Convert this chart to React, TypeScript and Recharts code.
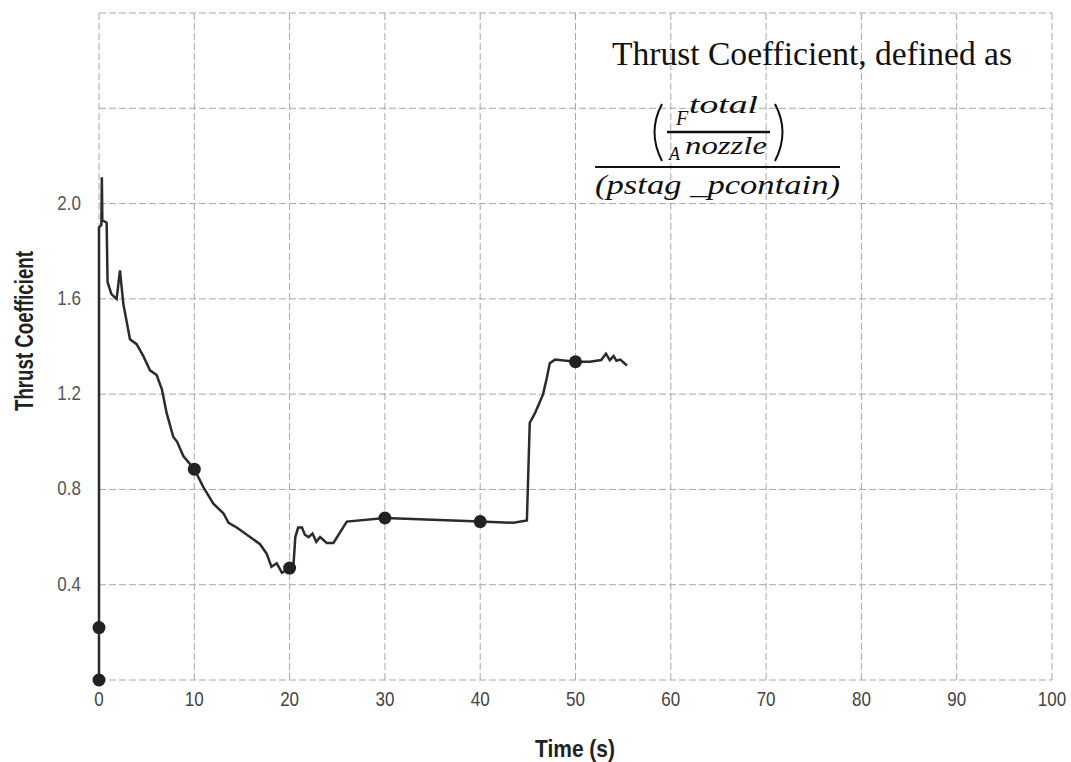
import { ComposedChart, Line, Scatter, XAxis, YAxis, CartesianGrid } from 'recharts';

// Thrust coefficient trace
const curveTime = [
  0, 0, 0.25, 0.3, 0.35, 0.8, 0.9, 1.3, 1.85, 2.2, 2.55, 3.25, 3.95, 4.65, 5.35, 6.05, 6.6, 7.1, 7.8, 8.2, 8.85,
  10.0, 10.95, 12.0, 13.05, 13.6, 14.45, 15.85, 16.9, 17.6, 18.1, 18.65, 19.2, 20.0, 20.4, 20.6, 20.9, 21.3,
  21.6, 22.0, 22.4, 22.8, 23.2, 23.9, 24.6, 26.0, 30.0, 40.0, 43.5, 44.9, 45.2, 45.75, 46.6, 47.0, 47.3,
  47.85, 50.0, 51.5, 52.7, 53.2, 53.6, 54.0, 54.3, 54.7, 55.4,
];
const curveValue = [
  0, 1.9, 1.91, 2.11, 1.93, 1.92, 1.67, 1.62, 1.6, 1.72, 1.58, 1.43, 1.41, 1.36, 1.3, 1.28, 1.22, 1.12, 1.02, 1.0, 0.94,
  0.885, 0.81, 0.74, 0.7, 0.66, 0.64, 0.6, 0.57, 0.53, 0.475, 0.49, 0.45, 0.47, 0.48, 0.6, 0.64, 0.64,
  0.61, 0.6, 0.615, 0.58, 0.6, 0.575, 0.575, 0.665, 0.68, 0.665, 0.66, 0.67, 1.08, 1.12, 1.2, 1.27, 1.33,
  1.345, 1.336, 1.336, 1.343, 1.37, 1.343, 1.36, 1.34, 1.345, 1.32,
];

const markerTime = [0, 0, 10, 20, 30, 40, 50];
const markerValue = [0, 0.22, 0.885, 0.47, 0.68, 0.665, 1.336];

const xTicks = [0, 10, 20, 30, 40, 50, 60, 70, 80, 90, 100];
const yTicks = [0, 0.4, 0.8, 1.2, 1.6, 2.0, 2.4, 2.8];
const yLabelled = [0.4, 0.8, 1.2, 1.6, 2.0];

const curve = curveTime.map((t, i) => ({ t, v: curveValue[i] }));
const markers = markerTime.map((t, i) => ({ t, v: markerValue[i] }));

const SANS = '"Liberation Sans", Arial, sans-serif';
const SERIF = '"Liberation Serif", "DejaVu Serif", serif';

// the scan uses a condensed grotesque, so squeeze the glyphs horizontally
function XTick({ x, y, payload }: any) {
  return (
    <g transform={`translate(${x},${y})`}>
      <text transform="scale(0.85,1)" textAnchor="middle" dy="0.71em" fontSize={20} fill="#444" fontFamily={SANS}>
        {payload.value}
      </text>
    </g>
  );
}

function YTick({ x, y, payload }: any) {
  const v = payload.value as number;
  if (!yLabelled.some(l => Math.abs(l - v) < 1e-6)) return null;
  return (
    <g transform={`translate(${x},${y})`}>
      <text transform="scale(0.85,1)" textAnchor="end" dy="0.3em" fontSize={20} fill="#555" fontFamily={SANS}>
        {v.toFixed(1)}
      </text>
    </g>
  );
}

function Dot({ cx, cy }: any) {
  return <circle cx={cx} cy={cy} r={6.5} fill="#222" />;
}

export default function App() {
  return (
    <div style={{ position: 'absolute', left: 0, top: 0, width: 1071, height: 762, background: '#fff' }}>
      <ComposedChart width={1071} height={762} margin={{ top: 13, right: 19, bottom: 52, left: 39 }}>
        <CartesianGrid stroke="#a8a8a8" strokeDasharray="7 3" strokeWidth={1} />
        <XAxis
          dataKey="t"
          type="number"
          domain={[0, 100]}
          ticks={xTicks}
          height={30}
          axisLine={false}
          tickLine={false}
          tickMargin={6}
          tick={<XTick />}
        />
        <YAxis
          dataKey="v"
          type="number"
          domain={[0, 2.8]}
          ticks={yTicks}
          width={60}
          axisLine={false}
          tickLine={false}
          tickMargin={12}
          tick={<YTick />}
        />
        <Line
          data={curve}
          dataKey="v"
          type="linear"
          stroke="#2b2b2b"
          strokeWidth={2.5}
          dot={false}
          activeDot={false}
          isAnimationActive={false}
        />
        <Scatter data={markers} dataKey="v" shape={<Dot />} isAnimationActive={false} />
      </ComposedChart>

      {/* axis titles and the formula note, drawn on top */}
      <svg width={1071} height={762} style={{ position: 'absolute', left: 0, top: 0, pointerEvents: 'none' }}>
        <text x={24} y={331} transform="rotate(-90 24 331)" textAnchor="middle" dominantBaseline="central"
          fontFamily={SANS} fontWeight="bold" fontSize={25} fill="#222" textLength={160} lengthAdjust="spacingAndGlyphs">
          Thrust Coefficient
        </text>
        <text x={575} y={757} textAnchor="middle" fontFamily={SANS} fontWeight="bold" fontSize={24} fill="#222"
          textLength={80} lengthAdjust="spacingAndGlyphs">
          Time (s)
        </text>

        <text x={612} y={65} fontFamily={SERIF} fontSize={33} fill="#111" textLength={400} lengthAdjust="spacingAndGlyphs">
          Thrust Coefficient, defined as
        </text>

        {/* inner fraction F^total / A^nozzle in parentheses */}
        <path d="M 662 104 Q 647 132 662 161" fill="none" stroke="#111" strokeWidth={2} />
        <path d="M 775 104 Q 790 132 775 161" fill="none" stroke="#111" strokeWidth={2} />
        <text x={676} y={125} fontFamily={SERIF} fontStyle="italic" fontSize={20} fill="#111">F</text>
        <text x={689} y={113} fontFamily={SERIF} fontStyle="italic" fontSize={25} fill="#111"
          textLength={69} lengthAdjust="spacingAndGlyphs">total</text>
        <line x1={667} x2={770} y1={132} y2={132} stroke="#111" strokeWidth={2.5} />
        <text x={669} y={160} fontFamily={SERIF} fontStyle="italic" fontSize={18} fill="#111">A</text>
        <text x={685} y={154} fontFamily={SERIF} fontStyle="italic" fontSize={25} fill="#111"
          textLength={82} lengthAdjust="spacingAndGlyphs">nozzle</text>

        <line x1={595} x2={840} y1={167} y2={167} stroke="#111" strokeWidth={2} />
        <text x={595} y={194} fontFamily={SERIF} fontStyle="italic" fontSize={28} fill="#111"
          textLength={245} lengthAdjust="spacingAndGlyphs">(pstag _pcontain)</text>
      </svg>
    </div>
  );
}
